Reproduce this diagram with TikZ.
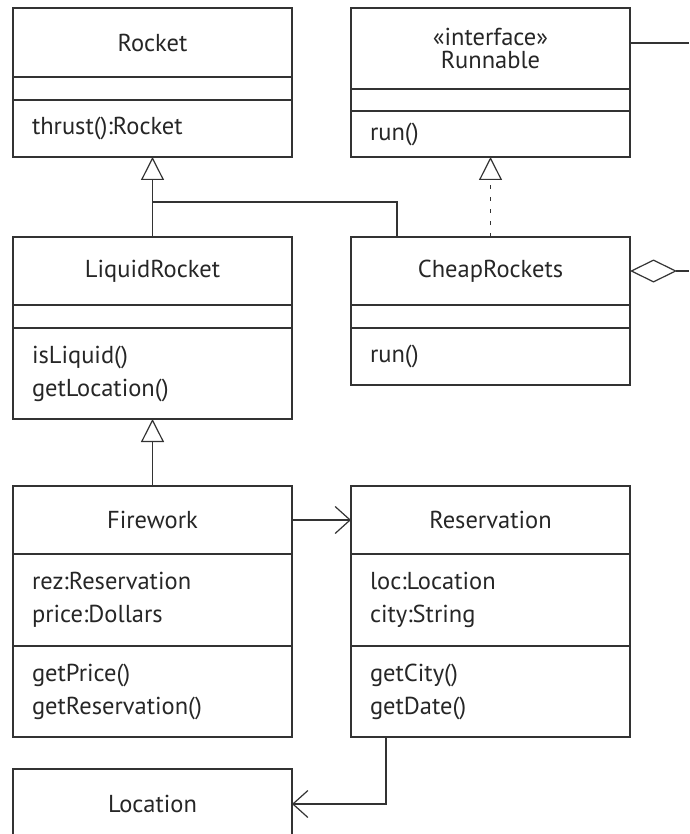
\documentclass[tikz,border=0pt]{standalone}
\usepackage{fontspec}
\setmainfont{PT Sans}
\usetikzlibrary{positioning, arrows.meta, calc}

\definecolor{linegray}{HTML}{333333}
\definecolor{textgray}{HTML}{262626}

\tikzset{
  part/.style={draw=linegray, line width=1.2pt, text width=241pt, inner xsep=19pt,
    inner ysep=0pt, outer sep=0pt, font=\fontsize{24.5}{33}\selectfont, text=textgray},
  head/.style={part, align=center},
  body/.style={part, align=left},
  conn/.style={draw=linegray, line width=1.2pt},
  inherit/.style={conn, -{Triangle[open, length=23pt, width=23pt]}},
  realize/.style={inherit, dash pattern=on 4pt off 8pt},
  navig/.style={conn, -{Straight Barb[length=15pt, width=27pt]}},
}

\begin{document}
\begin{tikzpicture}[x=1pt, y=-1pt]
  \useasboundingbox (0,0) rectangle (689,834);
  \clip (0,0) rectangle (689,834);

  % left column
  \node[head, minimum height=69pt, anchor=north] (rocket-h) at (152.5,8) {Rocket};
  \node[body, minimum height=23pt, below=0pt of rocket-h] (rocket-a) {};
  \node[body, minimum height=57pt, below=0pt of rocket-a] (rocket-m) {thrust():Rocket};

  \node[head, minimum height=68pt, anchor=north] (lr-h) at (152.5,237) {LiquidRocket};
  \node[body, minimum height=23pt, below=0pt of lr-h] (lr-a) {};
  \node[body, minimum height=91pt, below=0pt of lr-a] (lr-m) {isLiquid()\\getLocation()};

  \node[head, minimum height=68pt, anchor=north] (fw-h) at (152.5,486) {Firework};
  \node[body, minimum height=92pt, below=0pt of fw-h] (fw-a) {rez:Reservation\\price:Dollars};
  \node[body, minimum height=91pt, below=0pt of fw-a] (fw-m) {getPrice()\\getReservation()};

  \node[head, minimum height=70pt, anchor=north] (loc-h) at (152.5,769) {Location};

  % right column
  \node[head, minimum height=81pt, anchor=north] (run-h) at (490.5,8) {«interface»\\[-10pt]Runnable};
  \node[body, minimum height=22pt, below=0pt of run-h] (run-a) {};
  \node[body, minimum height=46pt, below=0pt of run-a] (run-m) {run()};

  \node[head, minimum height=68pt, anchor=north] (cr-h) at (490.5,237) {CheapRockets};
  \node[body, minimum height=23pt, below=0pt of cr-h] (cr-a) {};
  \node[body, minimum height=57pt, below=0pt of cr-a] (cr-m) {run()};

  \node[head, minimum height=68pt, anchor=north] (res-h) at (490.5,486) {Reservation};
  \node[body, minimum height=92pt, below=0pt of res-h] (res-a) {loc:Location\\city:String};
  \node[body, minimum height=91pt, below=0pt of res-a] (res-m) {getCity()\\getDate()};

  % connectors
  \coordinate (join) at (152.5,202);
  \coordinate (cr-up) at ($(cr-h.north west)+(46,0)$);
  \coordinate (res-down) at ($(res-m.south west)+(35,0)$);
  \coordinate (run-out) at (689,43);
  \coordinate (agg-out) at ($(cr-h.east)+(59,0)$);

  \draw[inherit] (lr-h.north) -- (rocket-m.south);
  \draw[conn] (cr-up) |- (join);
  \draw[realize] (cr-h.north) -- (run-m.south);
  \draw[inherit] (fw-h.north) -- (lr-m.south);
  \draw[navig] (fw-h.east) -- (res-h.west);
  \draw[navig] (res-down) |- (loc-h.east);
  \draw[conn] (run-out -| run-h.east) -- (run-out);
  \draw[conn, {Diamond[open, length=47pt, width=23pt]}-] (cr-h.east) -- (agg-out);
\end{tikzpicture}
\end{document}
